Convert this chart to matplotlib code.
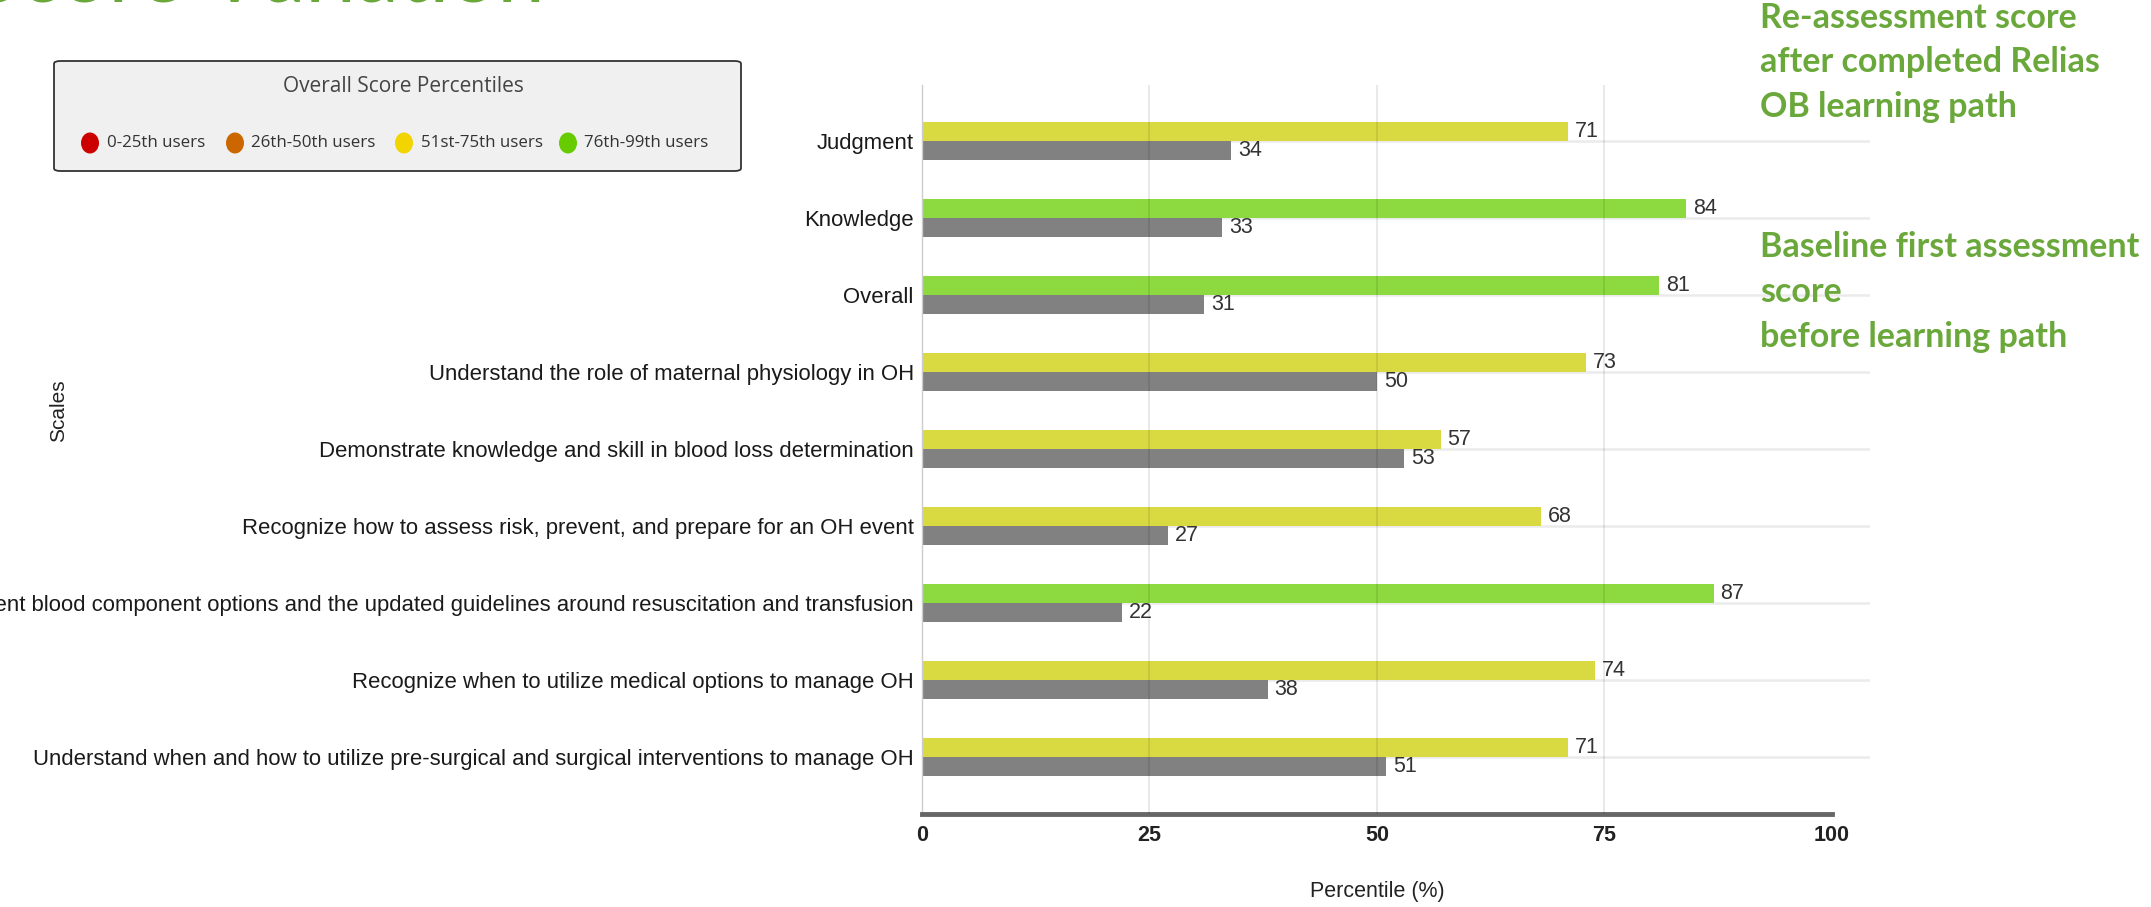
#!/usr/bin/env python3
"""
plot.py — OH learning path: baseline vs re-assessment percentile per scale.
Top bar coloured by the percentile band it falls in, grey bar = baseline.
"""
import numpy as np
import matplotlib
matplotlib.use("Agg")
import matplotlib.pyplot as plt
from matplotlib.patches import FancyBboxPatch, Ellipse

# ---- data --------------------------------------------------------------------
scales = [
    "Judgment",
    "Knowledge",
    "Overall",
    "Understand the role of maternal physiology in OH",
    "Demonstrate knowledge and skill in blood loss determination",
    "Recognize how to assess risk, prevent, and prepare for an OH event",
    "Understand different blood component options and the updated guidelines around resuscitation and transfusion",
    "Recognize when to utilize medical options to manage OH",
    "Understand when and how to utilize pre-surgical and surgical interventions to manage OH",
]
reassess = [71, 84, 81, 73, 57, 68, 87, 74, 71]
baseline = [34, 33, 31, 50, 53, 27, 22, 38, 51]

band_labels = ["0-25th users", "26th-50th users", "51st-75th users", "76th-99th users"]
band_upper = [25, 50, 75, 100]
band_dot_colors = ["#CC0000", "#CC6600", "#F2D400", "#66CC00"]
band_bar_colors = ["#D94A4A", "#D98A3F", "#D9DA41", "#8CDA3F"]
baseline_color = "#818181"
xticks = [0, 25, 50, 75, 100]

note_after = ["Re-assessment score", "after completed Relias", "OB learning path"]
note_before = ["Baseline first assessment", "score", "before learning path"]
GREEN = "#6AA83B"

plt.rcParams["font.family"] = ["Liberation Sans", "DejaVu Sans"]

W, H = 2151, 907
fig = plt.figure(figsize=(W / 100, H / 100), dpi=100)
fig.patch.set_facecolor("white")


def band_color(v):
    for up, c in zip(band_upper, band_bar_colors):
        if v <= up:
            return c
    return band_bar_colors[-1]


# ---- bars --------------------------------------------------------------------
ax = fig.add_axes([922 / W, 1 - 814 / H, 948 / W, (814 - 85) / H])
y = np.arange(len(scales))
h = 0.245
ax.barh(y - h / 2, reassess, height=h, color=[band_color(v) for v in reassess], zorder=2)
ax.barh(y + h / 2, baseline, height=h, color=baseline_color, zorder=2)

for yi, v in zip(y, reassess):
    ax.annotate(str(v), (v, yi - h / 2), xytext=(5, 0), textcoords="offset points",
                ha="left", va="center", fontsize=15.5, color="#333333")
for yi, v in zip(y, baseline):
    ax.annotate(str(v), (v, yi + h / 2), xytext=(5, 0), textcoords="offset points",
                ha="left", va="center", fontsize=15.5, color="#333333")

for yi in y:
    ax.axhline(yi, color="#ebebeb", lw=1.8, zorder=0)
for xv in xticks[1:-1]:
    ax.axvline(xv, color="black", alpha=0.1, lw=1.2, zorder=3)

ax.set_xlim(0, 104.2)
ax.set_ylim(len(scales) - 1 + 0.74, -0.73)
ax.set_xticks(xticks)
ax.set_xticklabels([str(t) for t in xticks], fontweight="bold", fontsize=15.5, color="#222222")
ax.set_yticks(y)
ax.set_yticklabels(scales, fontsize=15.9, color="#1a1a1a")
ax.tick_params(axis="x", length=0, pad=8)
ax.tick_params(axis="y", length=0, pad=6)
for s in ("top", "right"):
    ax.spines[s].set_visible(False)
ax.spines["left"].set_color("#cccccc")
ax.spines["left"].set_linewidth(1)
ax.spines["bottom"].set_color("#666666")
ax.spines["bottom"].set_linewidth(3.5)
ax.spines["bottom"].set_bounds(0, 100)

fig.text(1377 / W, 1 - 892 / H, "Percentile (%)", ha="center", va="center",
         fontsize=15.5, color="#222222")
fig.text(59 / W, 1 - 411 / H, "Scales", ha="center", va="center", rotation=90,
         fontsize=15, color="#222222")

# ---- legend box --------------------------------------------------------------
x0, x1, yt, yb = 54, 741, 61, 171
fig.patches.append(FancyBboxPatch((x0 / W, 1 - yb / H), (x1 - x0) / W, (yb - yt) / H,
                                  boxstyle="round,pad=0,rounding_size=0.003",
                                  transform=fig.transFigure, facecolor="#F0F0F0",
                                  edgecolor="#333333", lw=1.3))
fig.text(403 / W, 1 - 86 / H, "Overall Score Percentiles", ha="center", va="center",
         fontsize=15, color="#444444", family=["Open Sans", "DejaVu Sans"])
dot_x = [90, 235, 404, 568]
lab_x = [107, 251, 421, 584]
for dx, lx, c, lab in zip(dot_x, lab_x, band_dot_colors, band_labels):
    fig.patches.append(Ellipse((dx / W, 1 - 143 / H), 18 / W, 21 / H,
                               transform=fig.transFigure, facecolor=c, edgecolor="none"))
    fig.text(lx / W, 1 - 143 / H, lab, ha="left", va="center", fontsize=12.2,
             color="#333333", family=["Open Sans", "DejaVu Sans"])

# ---- slide text ---------------------------------------------------------------
# slide title sits above the crop; only the very bottom of its letters shows
fig.text(545 / W, 1 - 1 / H, "Score Variation", ha="right", va="baseline",
         fontsize=61, color=GREEN, family=["Lato", "DejaVu Sans"])
for line, base in zip(note_after, [28, 72, 117]):
    fig.text(1760 / W, 1 - base / H, line, ha="left", va="baseline", fontsize=24.5,
             fontweight="bold", color=GREEN, family=["Lato", "DejaVu Sans"])
for line, base in zip(note_before, [257, 302, 347]):
    fig.text(1760 / W, 1 - base / H, line, ha="left", va="baseline", fontsize=24.5,
             fontweight="bold", color=GREEN, family=["Lato", "DejaVu Sans"])

fig.savefig("out.png", dpi=100)
